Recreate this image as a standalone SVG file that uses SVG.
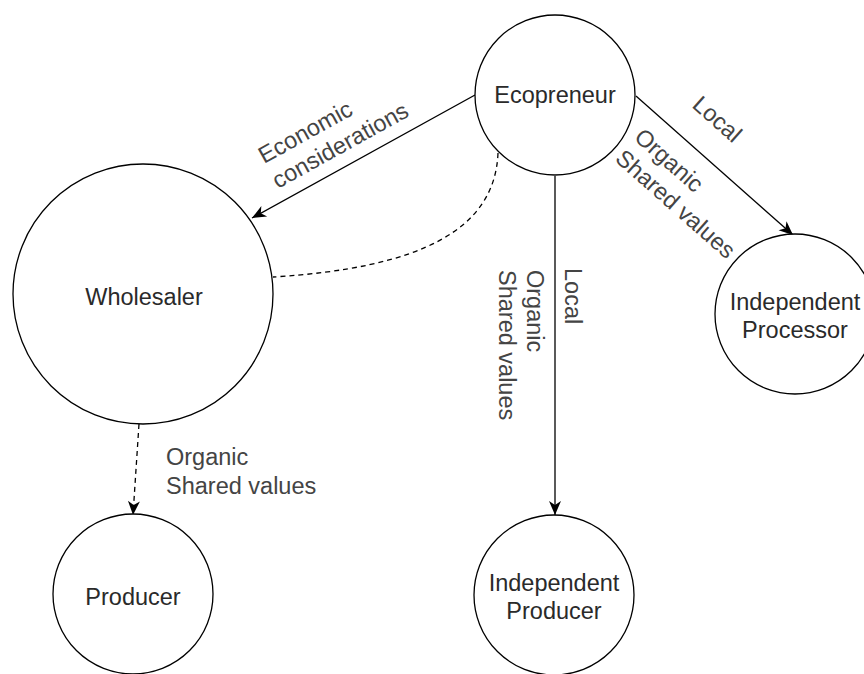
<svg xmlns="http://www.w3.org/2000/svg" width="864" height="674" viewBox="0 0 864 674">
<style>
.node{fill:#fff;stroke:#000;stroke-width:1.3}
.nt{font-family:"Liberation Sans",Arial,sans-serif;font-size:23.5px;fill:#2a2a2a;text-anchor:middle}
.lt{font-family:"Liberation Sans",Arial,sans-serif;font-size:23.5px;fill:#444}
.edge{fill:none;stroke:#000;stroke-width:1.3}
.dash{stroke-dasharray:5 4}
</style>
<defs>
<marker id="arr" markerUnits="userSpaceOnUse" markerWidth="16" markerHeight="14" refX="15" refY="7" orient="auto">
<path d="M1,1 L15,7 L1,13 L5,7 Z" fill="#000"/>
</marker>
</defs>
<rect width="864" height="674" fill="#fff"/>
<g id="connectors">
<line class="edge" x1="475" y1="95" x2="252" y2="218" marker-end="url(#arr)"/>
<path class="edge dash" d="M498,153 C495,230 420,268 273,277"/>
<line class="edge" x1="636" y1="96" x2="793" y2="235" marker-end="url(#arr)"/>
<line class="edge" x1="555" y1="176" x2="555" y2="515" marker-end="url(#arr)"/>
<line class="edge dash" x1="139" y1="424" x2="133" y2="515" marker-end="url(#arr)"/>
</g>
<g id="edge-labels">
<g transform="rotate(-29 264 164)">
<text class="lt" x="264" y="164">Economic</text>
<text class="lt" x="264" y="192.5">considerations</text>
</g>
<text class="lt" x="712" y="125" text-anchor="middle" transform="rotate(41.5 712 125)">Local</text>
<g transform="rotate(41.5 633 139)">
<text class="lt" x="633" y="139">Organic</text>
<text class="lt" x="633" y="167.5">Shared values</text>
</g>
<text class="lt" x="565" y="268" transform="rotate(90 565 268)">Local</text>
<text class="lt" x="527" y="270" transform="rotate(90 527 270)">Organic</text>
<text class="lt" x="499" y="270" transform="rotate(90 499 270)">Shared values</text>
<text class="lt" x="166" y="465">Organic</text>
<text class="lt" x="166" y="494">Shared values</text>
</g>
<g id="ecopreneur">
<circle class="node" cx="555" cy="95" r="80"/>
<text class="nt" x="555" y="103">Ecopreneur</text>
</g>
<g id="wholesaler">
<circle class="node" cx="143" cy="294" r="130"/>
<text class="nt" x="144" y="305">Wholesaler</text>
</g>
<g id="producer">
<circle class="node" cx="133" cy="594" r="80"/>
<text class="nt" x="133" y="605">Producer</text>
</g>
<g id="independent-producer">
<circle class="node" cx="554" cy="595" r="80"/>
<text class="nt" x="554" y="591">Independent</text>
<text class="nt" x="554" y="619">Producer</text>
</g>
<g id="independent-processor">
<circle class="node" cx="795" cy="314" r="80"/>
<text class="nt" x="795" y="310">Independent</text>
<text class="nt" x="795" y="338">Processor</text>
</g>
</svg>
